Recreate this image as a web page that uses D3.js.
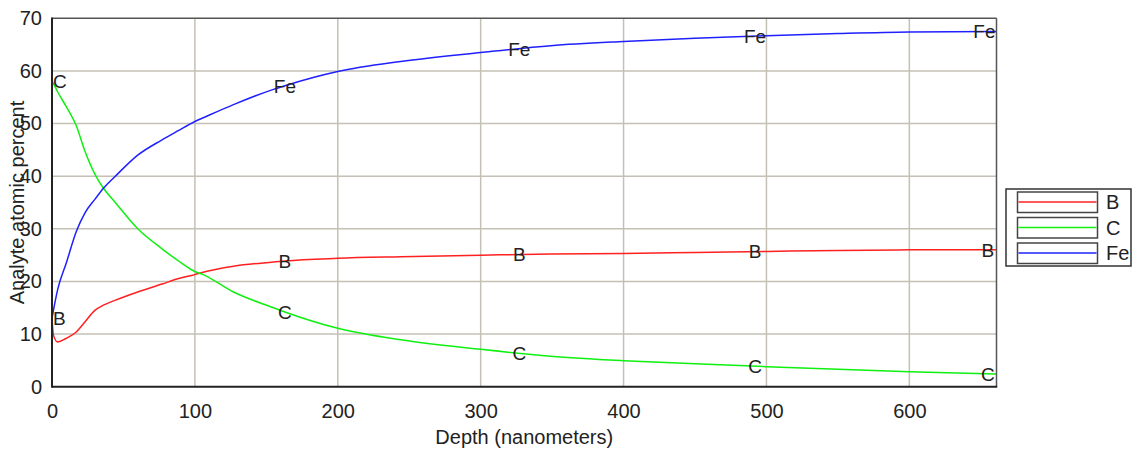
<!DOCTYPE html>
<html>
<head>
<meta charset="utf-8">
<script src="https://cdn.jsdelivr.net/npm/d3@7"></script>
<style>
  html, body { margin: 0; padding: 0; background: #fff; }
  svg { display: block; font-family: "Liberation Sans", Arial, sans-serif; }
</style>
</head>
<body>
<svg id="chart" width="1134" height="450"></svg>
<script>
// ---- data ----
const depth = [0, 1, 4, 10, 17, 23, 30, 36, 44, 60, 77, 88, 100, 105, 127, 155, 163, 200, 244, 300, 349, 400, 450, 500, 550, 600, 661];
const seriesB = [13, 9.8, 8.5, 9.2, 10.4, 12.3, 14.5, 15.5, 16.4, 18, 19.5, 20.5, 21.3, 21.7, 22.9, 23.7, 23.9, 24.4, 24.7, 25, 25.2, 25.3, 25.5, 25.7, 25.9, 26, 26];
const seriesC = [58, 57.6, 56, 53.2, 49.6, 44.8, 40.4, 37.7, 35.1, 30, 26.2, 24, 21.9, 21.4, 18, 15, 14.2, 11.1, 8.9, 7.1, 5.8, 4.95, 4.35, 3.8, 3.3, 2.85, 2.4];
const seriesFe = [13, 14.5, 18.5, 23.5, 29.5, 33, 35.6, 37.7, 39.9, 44, 46.9, 48.6, 50.4, 51, 53.6, 56.5, 57.2, 59.9, 61.8, 63.5, 64.8, 65.6, 66.2, 66.7, 67.1, 67.4, 67.5];
const seriesNames = ["B", "C", "Fe"];
const seriesColors = ["#ff2020", "#10f010", "#2020ff"];
const labelDepthsB = [0, 163, 327, 492, 655];
const labelDepthsC = [0, 163, 327, 492, 655];
const labelDepthsFe = [163, 327, 492, 655];
const xTicks = [0, 100, 200, 300, 400, 500, 600];
const yTicks = [0, 10, 20, 30, 40, 50, 60, 70];
const xTitle = "Depth (nanometers)";
const yTitle = "Analyte atomic percent";

// ---- layout ----
const L = 52, R = 996.5, T = 18.3, B = 386.7;
const svg = d3.select("#chart");
const x = d3.scaleLinear().domain([0, 661]).range([L, R]);
const y = d3.scaleLinear().domain([0, 70]).range([B, T]);

// grid
const grid = svg.append("g").attr("stroke", "#c4c0b4").attr("stroke-width", 1.5);
grid.selectAll("line.v").data(xTicks.filter(d => d > 0)).join("line")
  .attr("x1", d => x(d)).attr("x2", d => x(d)).attr("y1", T).attr("y2", B);
grid.selectAll("line.h").data(yTicks.filter(d => d > 0 && d < 70)).join("line")
  .attr("x1", L).attr("x2", R).attr("y1", d => y(d)).attr("y2", d => y(d));

// axes tick labels
const xAxis = svg.append("g").attr("transform", `translate(0,${B})`)
  .call(d3.axisBottom(x).tickValues(xTicks).tickSize(0).tickPadding(17));
const yAxis = svg.append("g").attr("transform", `translate(${L},0)`)
  .call(d3.axisLeft(y).tickValues(yTicks).tickSize(0).tickPadding(10));
[xAxis, yAxis].forEach(a => {
  a.select(".domain").remove();
  a.selectAll("text").attr("font-size", 20).attr("fill", "#222")
    .attr("font-family", "Liberation Sans, Arial, sans-serif");
});

// series lines
const seriesData = [seriesB, seriesC, seriesFe];
const line = d3.line().curve(d3.curveMonotoneX);
svg.append("g").selectAll("path").data(seriesData).join("path")
  .attr("fill", "none")
  .attr("stroke", (d, i) => seriesColors[i])
  .attr("stroke-width", 1.5)
  .attr("d", vals => line(depth.map((dd, j) => [x(dd), y(vals[j])])));

// plot frame
svg.append("line").attr("x1", L).attr("x2", R).attr("y1", T).attr("y2", T).attr("stroke", "#555").attr("stroke-width", 1.5);
svg.append("line").attr("x1", R).attr("x2", R).attr("y1", T).attr("y2", B).attr("stroke", "#555").attr("stroke-width", 1.5);
svg.append("line").attr("x1", L).attr("x2", L).attr("y1", T - 0.7).attr("y2", B + 1).attr("stroke", "#222").attr("stroke-width", 2);
svg.append("line").attr("x1", L).attr("x2", R + 0.7).attr("y1", B).attr("y2", B).attr("stroke", "#222").attr("stroke-width", 2);

// series labels on the curves
function interp(vals, d) {
  return d3.scaleLinear().domain(depth).range(vals)(d);
}
const labelSets = [
  { name: "B", vals: seriesB, at: labelDepthsB },
  { name: "C", vals: seriesC, at: labelDepthsC },
  { name: "Fe", vals: seriesFe, at: labelDepthsFe }
];
const lblG = svg.append("g").attr("font-size", 19).attr("fill", "#222");
labelSets.forEach(s => {
  s.at.forEach(d => {
    const t = lblG.append("text").text(s.name)
      .attr("y", y(interp(s.vals, d))).attr("dy", "0.36em");
    const w = t.node().getComputedTextLength();
    let cx = x(d) - w / 2;
    cx = Math.max(L + 1, Math.min(R - w - 1, cx));
    t.attr("x", cx);
  });
});

// axis titles
svg.append("text").attr("x", (L + R) / 2).attr("y", 444).attr("text-anchor", "middle")
  .attr("font-size", 20).attr("fill", "#222").text(xTitle);
svg.append("text").attr("transform", `translate(24,${(T + B) / 2}) rotate(-90)`)
  .attr("text-anchor", "middle").attr("font-size", 20).attr("fill", "#222").text(yTitle);

// legend
const lg = svg.append("g");
lg.append("rect").attr("x", 1006).attr("y", 189).attr("width", 125).attr("height", 77)
  .attr("fill", "#fff").attr("stroke", "#333").attr("stroke-width", 1.5);
const rows = lg.selectAll("g.row").data(seriesNames).join("g")
  .attr("transform", (d, i) => `translate(0,${202 + i * 25.5})`);
rows.append("rect").attr("x", 1017.5).attr("y", -10).attr("width", 80).attr("height", 20.5)
  .attr("fill", "#fff").attr("stroke", "#444").attr("stroke-width", 1.5);
rows.append("line").attr("x1", 1018.5).attr("x2", 1096.5).attr("y1", 0).attr("y2", 0)
  .attr("stroke", (d, i) => seriesColors[i]).attr("stroke-width", 1.5);
rows.append("text").attr("x", 1106).attr("y", 0).attr("dy", "0.36em")
  .attr("font-size", 20).attr("fill", "#222").text(d => d);
</script>
</body>
</html>
